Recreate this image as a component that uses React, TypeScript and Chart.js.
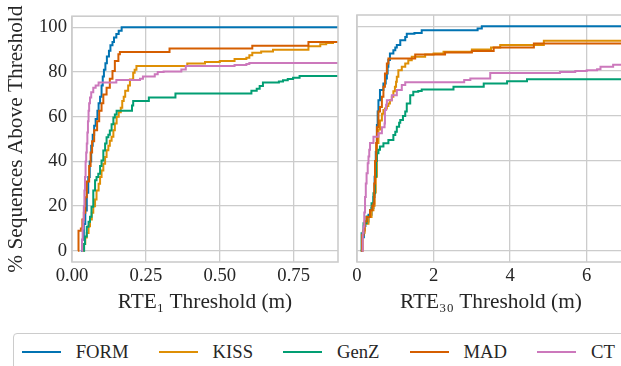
import React, { useEffect, useRef } from 'react';
import { Chart, registerables } from 'chart.js';

Chart.register(...registerables);

type Pt = [number, number];

const SERIES = ['FORM', 'KISS', 'GenZ', 'MAD', 'CT'];
const COLORS = ['#0173b2', '#de8f05', '#029e73', '#d55e00', '#cc78bc'];
const Y_TICKS = [0, 20, 40, 60, 80, 100];
const RTE1_TICKS = [0, 0.25, 0.5, 0.75];
const RTE30_TICKS = [0, 2, 4, 6];
const RTE1_RANGE = [0, 0.9];
const RTE30_RANGE = [0, 7];
const Y_RANGE = [-5, 105];
const Y_TITLE = '% Sequences Above Threshold';
const RTE1_TITLE = 'RTE\u2081 Threshold (m)';
const RTE30_TITLE = 'RTE\u2083\u2080 Threshold (m)';

// RTE1 (left panel): [threshold, % sequences]
const FORM_RTE1: Pt[] = [
  [0.03, 0], [0.034, 5], [0.04, 12], [0.045, 18], [0.05, 26], [0.055, 33], [0.06, 40], [0.065, 47],
  [0.07, 52], [0.075, 56], [0.08, 59], [0.086, 62.7], [0.09, 66], [0.095, 69], [0.1, 74], [0.104, 78],
  [0.108, 81], [0.113, 84], [0.118, 87], [0.125, 89.5], [0.13, 92], [0.137, 93.5], [0.142, 95.5],
  [0.15, 97], [0.158, 98.5], [0.168, 100], [0.9, 100],
];
const KISS_RTE1: Pt[] = [
  [0.036, 0], [0.04, 3], [0.045, 6], [0.05, 8], [0.056, 11], [0.061, 14], [0.067, 17], [0.072, 20],
  [0.078, 23], [0.083, 27], [0.09, 30], [0.095, 33], [0.1, 36], [0.106, 39], [0.112, 42], [0.117, 45],
  [0.123, 47], [0.128, 49.3], [0.134, 51], [0.14, 54], [0.145, 57], [0.151, 60], [0.158, 62], [0.165, 64],
  [0.17, 67], [0.175, 69], [0.18, 71.6], [0.19, 74], [0.196, 76.7], [0.207, 79.7], [0.212, 81], [0.218, 82.7],
  [0.385, 82.7], [0.39, 83.8], [0.45, 84.5], [0.5, 85], [0.55, 85.8], [0.59, 86.4], [0.6, 87.5], [0.61, 88.6],
  [0.64, 89.2], [0.68, 90], [0.795, 90], [0.8, 91.5], [0.84, 92.5], [0.86, 93], [0.883, 93.5], [0.9, 93.5],
];
const GENZ_RTE1: Pt[] = [
  [0.038, 0], [0.041, 3], [0.044, 6.4], [0.05, 10.8], [0.056, 13], [0.061, 15.3], [0.066, 19.7], [0.072, 27],
  [0.078, 31.6], [0.083, 33], [0.089, 34.5], [0.095, 38], [0.1, 40.4], [0.106, 44.9], [0.112, 48], [0.117, 50.8],
  [0.123, 52], [0.128, 53.8], [0.134, 56.7], [0.14, 59.7], [0.145, 61], [0.151, 62.7], [0.196, 62.7], [0.203, 65],
  [0.207, 67], [0.252, 67], [0.26, 68.6], [0.345, 68.6], [0.35, 70.4], [0.6, 70.4], [0.607, 71.6], [0.625, 72.5],
  [0.635, 73.8], [0.646, 75.3], [0.69, 75.3], [0.7, 75.8], [0.714, 76.3], [0.73, 76.9], [0.748, 77.5], [0.77, 78.2],
  [0.9, 78.2],
];
const MAD_RTE1: Pt[] = [
  [0.02, 0], [0.022, 9], [0.03, 10], [0.035, 14], [0.04, 17], [0.045, 24], [0.05, 31], [0.058, 38],
  [0.063, 44], [0.068, 49], [0.075, 54], [0.085, 58], [0.092, 62.7], [0.1, 66], [0.106, 70], [0.117, 73],
  [0.128, 77], [0.137, 80.5], [0.145, 85], [0.157, 88], [0.162, 89], [0.32, 89], [0.33, 90.5], [0.6, 90.5],
  [0.61, 91.8], [0.79, 91.8], [0.8, 93.5], [0.9, 93.5],
];
const CT_RTE1: Pt[] = [
  [0.032, 0], [0.034, 5], [0.036, 10], [0.038, 14], [0.04, 20], [0.042, 27], [0.044, 33], [0.046, 40],
  [0.048, 44], [0.05, 48], [0.052, 53], [0.054, 58], [0.056, 62.7], [0.058, 66], [0.061, 68.6], [0.065, 71],
  [0.072, 73], [0.08, 74], [0.09, 75.3], [0.145, 75.3], [0.15, 76.4], [0.224, 76.4], [0.23, 77], [0.24, 78],
  [0.275, 78], [0.28, 79], [0.29, 80], [0.31, 80.3], [0.365, 80.3], [0.37, 81.2], [0.385, 82.7], [0.52, 82.7],
  [0.55, 83.2], [0.59, 83.6], [0.6, 84.1], [0.9, 84.1],
];

// RTE30 (right panel): [threshold, % sequences]
const FORM_RTE30: Pt[] = [
  [0.1, 0], [0.13, 6], [0.18, 11], [0.22, 13], [0.3, 16], [0.38, 19], [0.43, 24], [0.46, 33], [0.49, 44],
  [0.52, 56], [0.54, 62], [0.56, 67], [0.6, 71.6], [0.69, 74.5], [0.75, 76.7], [0.78, 79], [0.8, 82], [0.82, 85],
  [0.86, 87.9], [0.95, 89.3], [1.0, 90.5], [1.04, 91.6], [1.13, 93.8], [1.26, 95.2], [1.3, 96.7], [1.5, 97],
  [1.69, 98.2], [3.09, 98.2], [3.15, 99], [3.26, 100], [7, 100],
];
const KISS_RTE30: Pt[] = [
  [0.1, 0], [0.15, 8], [0.2, 12], [0.3, 15], [0.38, 18], [0.43, 20], [0.46, 26], [0.49, 33], [0.52, 48],
  [0.56, 54], [0.6, 58], [0.65, 61], [0.69, 62.7], [0.73, 63.4], [0.78, 64.5], [0.82, 65.6], [0.86, 67],
  [0.91, 68.6], [0.95, 71], [0.99, 73], [1.02, 75.3], [1.04, 77.5], [1.08, 80.4], [1.17, 81.9], [1.26, 83.4],
  [1.34, 84.9], [1.43, 86.4], [1.69, 86.4], [1.78, 87.4], [2.0, 87.9], [2.26, 88.6], [3.0, 89.6], [3.5, 90.5],
  [3.74, 91.6], [4.88, 93.5], [7, 93.5],
];
const GENZ_RTE30: Pt[] = [
  [0.1, 0], [0.12, 7.8], [0.17, 12.3], [0.25, 15.3], [0.34, 18.2], [0.38, 21.2], [0.43, 25.6], [0.47, 33],
  [0.5, 40], [0.52, 43.4], [0.56, 45], [0.6, 46.4], [0.69, 47.9], [0.82, 49.3], [0.95, 51.6], [1.0, 53],
  [1.04, 55.2], [1.1, 57], [1.13, 58.2], [1.2, 60], [1.26, 62], [1.3, 65.6], [1.39, 69.3], [1.47, 70.8],
  [1.6, 71.2], [1.69, 71.8], [2.48, 71.8], [2.52, 73], [3.22, 73], [3.31, 74.5], [3.79, 74.5], [3.92, 75.5],
  [4.44, 76.4], [7, 76.4],
];
const MAD_RTE30: Pt[] = [
  [0.1, 0], [0.13, 7], [0.17, 9], [0.2, 13], [0.25, 15], [0.34, 18], [0.4, 20], [0.43, 21], [0.45, 30],
  [0.47, 40], [0.5, 48], [0.52, 55], [0.56, 62], [0.6, 64], [0.65, 68.6], [0.69, 73], [0.73, 79], [0.78, 83.4],
  [0.82, 85.6], [1.47, 85.6], [1.52, 87.4], [2.26, 87.4], [2.3, 88.3], [3.0, 89], [3.48, 89], [3.57, 90.5],
  [4.44, 90.5], [4.62, 92.3], [7, 92.3],
];
const CT_RTE30: Pt[] = [
  [0.12, 0], [0.15, 8], [0.17, 10.8], [0.19, 17], [0.21, 24], [0.23, 30], [0.25, 34.5], [0.28, 39], [0.3, 42],
  [0.32, 45], [0.34, 48], [0.43, 50.8], [0.56, 52.3], [0.65, 55], [0.72, 56.7], [0.73, 62.7], [0.76, 65],
  [0.78, 67], [0.91, 69.3], [1.04, 71.6], [1.17, 73.8], [1.26, 75.1], [2.74, 75.1], [2.8, 76], [2.96, 76.7],
  [3.4, 76.7], [3.48, 79.2], [4.87, 79.2], [5.3, 79.6], [5.7, 80.1], [6.0, 80.4], [6.27, 80.8], [6.36, 81.9],
  [6.69, 82.8], [7, 82.8],
];

const RTE1_DATA = [FORM_RTE1, KISS_RTE1, GENZ_RTE1, MAD_RTE1, CT_RTE1];
const RTE30_DATA = [FORM_RTE30, KISS_RTE30, GENZ_RTE30, MAD_RTE30, CT_RTE30];

const FONT = "'Liberation Serif', 'Times New Roman', 'DejaVu Serif', serif";
const TEXT = '#262626';
const GRID = '#cccccc';
const TICK_SIZE = 18.67;
const LABEL_SIZE = 21.33;

const framePlugin = {
  id: 'frame',
  afterDatasetsDraw(chart: any) {
    const { ctx, chartArea: a } = chart;
    ctx.save();
    ctx.strokeStyle = GRID;
    ctx.lineWidth = 1.6;
    ctx.strokeRect(a.left, a.top, a.right - a.left, a.bottom - a.top);
    ctx.restore();
  },
};

function makeConfig(
  data: Pt[][],
  xTicks: number[],
  xRange: number[],
  xTitle: string,
  xFmt: (v: number) => string,
  showY: boolean,
  padding: any,
  yWidth: number,
): any {
  return {
    type: 'line',
    data: {
      datasets: data.map((pts, i) => ({
        label: SERIES[i],
        data: pts.map(([x, y]) => ({ x, y })),
        borderColor: COLORS[i],
        backgroundColor: COLORS[i],
        borderWidth: 2,
        pointRadius: 0,
        stepped: 'before',
        fill: false,
        order: SERIES.length - 1 - i,
      })),
    },
    options: {
      animation: false,
      responsive: false,
      events: [],
      layout: { padding },
      plugins: { legend: { display: false }, tooltip: { enabled: false } },
      scales: {
        x: {
          type: 'linear',
          min: xRange[0],
          max: xRange[1],
          afterBuildTicks: (s: any) => {
            s.ticks = xTicks.map((v) => ({ value: v }));
          },
          afterFit: (s: any) => {
            s.height = 56;
          },
          grid: { color: GRID, lineWidth: 1.3, drawTicks: false },
          border: { display: false },
          ticks: {
            font: { family: FONT, size: TICK_SIZE },
            color: TEXT,
            padding: 3,
            maxRotation: 0,
            callback: (v: number) => xFmt(v),
          },
          title: {
            display: true,
            text: xTitle,
            font: { family: FONT, size: LABEL_SIZE },
            color: TEXT,
            padding: { top: 0, bottom: 3 },
          },
        },
        y: {
          type: 'linear',
          min: Y_RANGE[0],
          max: Y_RANGE[1],
          afterBuildTicks: (s: any) => {
            s.ticks = Y_TICKS.map((v) => ({ value: v }));
          },
          afterFit: (s: any) => {
            s.width = yWidth;
          },
          grid: { color: GRID, lineWidth: 1.3, drawTicks: false },
          border: { display: false },
          ticks: {
            display: showY,
            font: { family: FONT, size: TICK_SIZE },
            color: TEXT,
            padding: 5,
            callback: (v: number) => String(v),
          },
          title: {
            display: showY,
            text: Y_TITLE,
            font: { family: FONT, size: LABEL_SIZE },
            color: TEXT,
            padding: { top: 4, bottom: 0 },
          },
        },
      },
    },
    plugins: [framePlugin],
  };
}

export default function App() {
  const leftRef = useRef<HTMLCanvasElement>(null);
  const rightRef = useRef<HTMLCanvasElement>(null);

  useEffect(() => {
    const left = new Chart(
      leftRef.current as HTMLCanvasElement,
      makeConfig(RTE1_DATA, RTE1_TICKS, RTE1_RANGE, RTE1_TITLE, (v) => v.toFixed(2), true,
        { top: 15, right: 7, left: 0, bottom: 0 }, 72),
    );
    const right = new Chart(
      rightRef.current as HTMLCanvasElement,
      makeConfig(RTE30_DATA, RTE30_TICKS, RTE30_RANGE, RTE30_TITLE, (v) => String(v), false,
        { top: 15, right: 10, left: 12, bottom: 0 }, 0),
    );
    return () => {
      left.destroy();
      right.destroy();
    };
  }, []);

  return (
    <div
      style={{
        position: 'absolute', left: 0, top: 0, width: 621, height: 366,
        overflow: 'hidden', background: '#ffffff',
      }}
    >
      <canvas ref={leftRef} width={345} height={318}
        style={{ position: 'absolute', left: 0, top: 0, width: 345, height: 318 }} />
      <canvas ref={rightRef} width={290} height={318}
        style={{ position: 'absolute', left: 345, top: 0, width: 290, height: 318 }} />
      <div
        style={{
          position: 'absolute', left: 13, top: 333, width: 640, height: 44,
          border: `1.3px solid ${GRID}`, borderRadius: 4, boxSizing: 'border-box',
          background: '#ffffff',
        }}
      >
        <div style={{ display: 'flex', alignItems: 'center', height: 36, paddingLeft: 7.7 }}>
          {SERIES.map((name, i) => (
            <div key={name} style={{ display: 'flex', alignItems: 'center', marginRight: 30 }}>
              <div style={{ width: 39, height: 2, background: COLORS[i], marginRight: 15 }} />
              <span style={{ fontFamily: FONT, fontSize: TICK_SIZE, color: TEXT, lineHeight: 1, whiteSpace: 'nowrap' }}>
                {name}
              </span>
            </div>
          ))}
        </div>
      </div>
    </div>
  );
}
